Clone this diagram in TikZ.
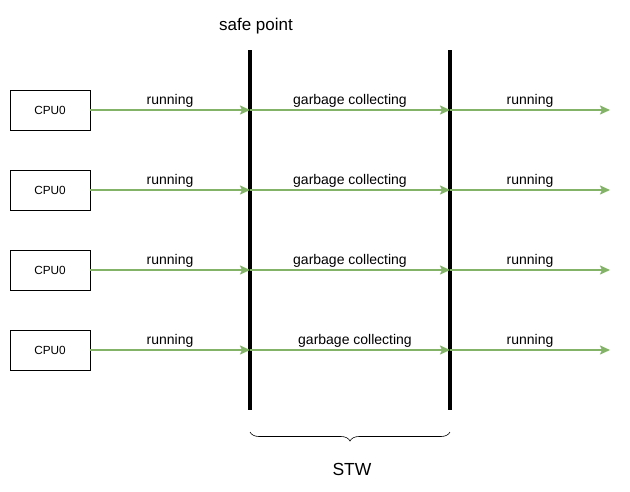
\documentclass[tikz,border=0pt]{standalone}
\usepackage{fontspec}
\setmainfont{Liberation Sans}
\usetikzlibrary{arrows.meta,decorations.pathreplacing}
\begin{document}
\begin{tikzpicture}[x=1pt,y=-1pt,
  cpubox/.style={draw=black,line width=0.8pt,minimum width=80pt,minimum height=40pt,inner sep=0pt,font=\fontsize{11.8}{13}\selectfont},
  flow/.style={draw={rgb,255:red,130;green,179;blue,102},line width=1.6pt,-{Stealth[length=10pt,width=9pt,inset=2pt]},shorten >=0pt},
  lbl/.style={font=\fontsize{14}{16}\selectfont,inner sep=0pt,anchor=base},
  barrier/.style={line width=3.2pt,draw=black}]
\useasboundingbox (0,0) rectangle (630,491);
% vertical lines
\coordinate (s1) at (250,50);
\coordinate (e1) at (250,410);
\coordinate (s2) at (450,50);
\coordinate (e2) at (450,410);
\draw[barrier] (s1) -- (e1);
\draw[barrier] (s2) -- (e2);
\node[font=\fontsize{17}{19}\selectfont,anchor=base] (sp) at (256,30) {safe point};
% rows
\foreach \i/\y/\gx in {1/110/350,2/190/350,3/270/350,4/350/355}{
  \node[cpubox] (cpu\i) at (50,\y) {CPU0};
  \coordinate (a\i) at (250,\y);
  \coordinate (b\i) at (450,\y);
  \coordinate (c\i) at (610,\y);
  \draw[flow] (cpu\i.east) -- (a\i);
  \draw[flow] (a\i) -- (b\i);
  \draw[flow] (b\i) -- (c\i);
  \node[lbl] (r\i) at (170,\y-6) {running};
  \node[lbl] (g\i) at (\gx,\y-6) {garbage collecting};
  \node[lbl] (q\i) at (530,\y-6) {running};
}
% brace
\coordinate (bl) at (250,432);
\coordinate (br) at (450,432);
\draw[line width=0.6pt,decorate,decoration={brace,mirror,amplitude=9pt}] (bl) -- (br);
\node[font=\fontsize{17.5}{19}\selectfont,anchor=base] (stw) at (352,475) {STW};
\end{tikzpicture}
\end{document}
